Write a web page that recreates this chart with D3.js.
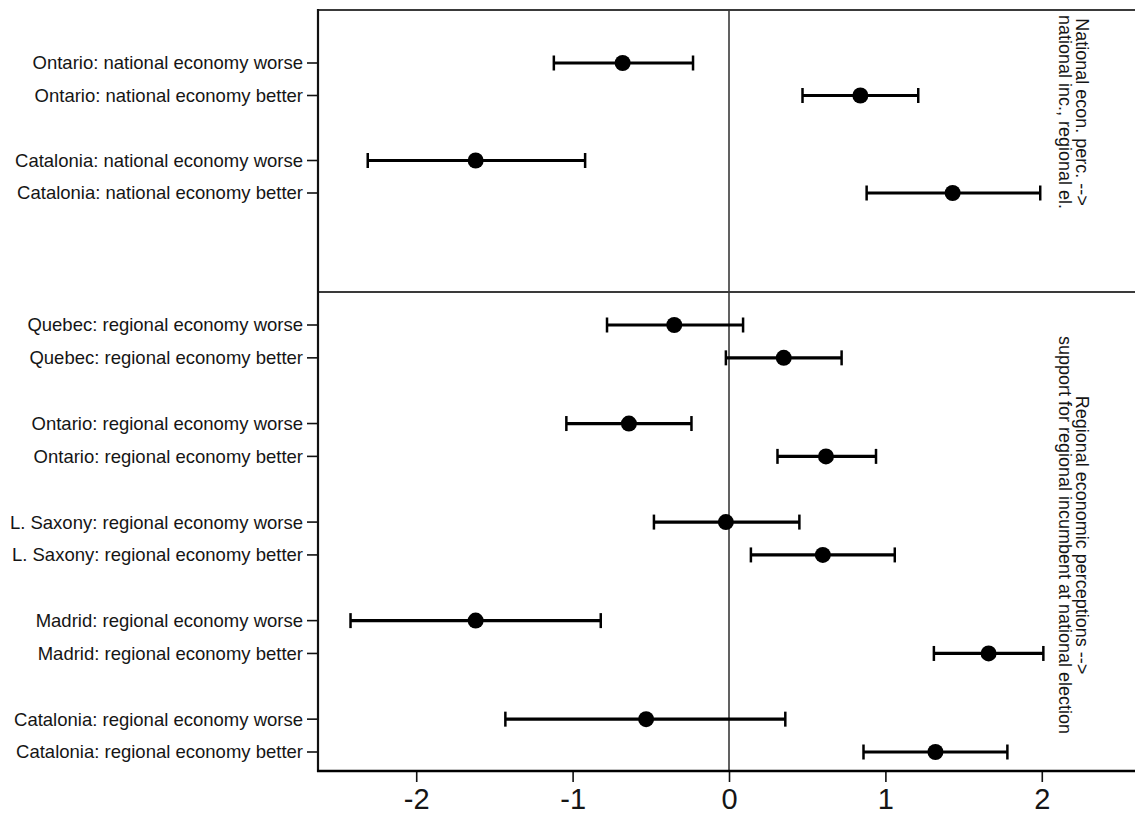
<!DOCTYPE html>
<html>
<head>
<meta charset="utf-8">
<script src="https://cdn.jsdelivr.net/npm/d3@7/dist/d3.min.js"></script>
<style>
  html, body { margin: 0; padding: 0; background: #fff; }
  svg { display: block; font-family: Arial, "Liberation Sans", Helvetica, sans-serif; }
</style>
</head>
<body>
<svg id="chart" width="1135" height="818"></svg>
<script>
// Coefficient estimates with 95% confidence intervals, grouped in two panels
const labels = [
  "Ontario: national economy worse",
  "Ontario: national economy better",
  "Catalonia: national economy worse",
  "Catalonia: national economy better",
  "Quebec: regional economy worse",
  "Quebec: regional economy better",
  "Ontario: regional economy worse",
  "Ontario: regional economy better",
  "L. Saxony: regional economy worse",
  "L. Saxony: regional economy better",
  "Madrid: regional economy worse",
  "Madrid: regional economy better",
  "Catalonia: regional economy worse",
  "Catalonia: regional economy better"
];
const panel    = [0, 0, 0, 0, 1, 1, 1, 1, 1, 1, 1, 1, 1, 1];
const slot     = [0, 1, 3, 4, 0, 1, 3, 4, 6, 7, 9, 10, 12, 13];
const estimate = [-0.68, 0.84, -1.62, 1.43, -0.35, 0.35, -0.64, 0.62, -0.02, 0.60, -1.62, 1.66, -0.53, 1.32];
const lower    = [-1.12, 0.47, -2.31, 0.88, -0.78, -0.02, -1.04, 0.31, -0.48, 0.14, -2.42, 1.31, -1.43, 0.86];
const upper    = [-0.23, 1.21, -0.92, 1.99, 0.09, 0.72, -0.24, 0.94, 0.45, 1.06, -0.82, 2.01, 0.36, 1.78];
const xTicks   = [-2, -1, 0, 1, 2];
const panelTitles = [
  ["National econ. perc. -->", "national inc., regional el."],
  ["Regional economic perceptions -->", "support for regional incumbent at national election"]
];

const svg = d3.select("#chart");
const left = 318, right = 1140, plotBottom = 771;
const ink = "#151515", frame = "#3a3a3a";

const x = d3.scaleLinear().domain([-2.628, 2.596]).range([left, 1135]);

// Each panel maps row slots to vertical pixels
const panels = [
  { top: 10,  bottom: 292, y: d3.scaleLinear().domain([0, 4]).range([63, 193]),  titleY: 112 },
  { top: 292, bottom: plotBottom, y: d3.scaleLinear().domain([0, 13]).range([325, 752]), titleY: 535 }
];

const rows = labels.map((label, i) => ({
  label, est: estimate[i], lo: lower[i], hi: upper[i], p: panel[i],
  yPos: panels[panel[i]].y(slot[i])
}));

// Panel frames
panels.forEach((pn, k) => {
  svg.append("line")
    .attr("x1", left).attr("x2", right)
    .attr("y1", pn.top).attr("y2", pn.top)
    .attr("stroke", frame).attr("stroke-width", 2.2);
  // reference line at zero
  svg.append("line")
    .attr("x1", x(0)).attr("x2", x(0))
    .attr("y1", pn.top).attr("y2", pn.bottom)
    .attr("stroke", frame).attr("stroke-width", 1.6);
  // rotated panel title on the right
  const t = svg.append("text")
    .attr("transform", `translate(1076,${pn.titleY}) rotate(90)`)
    .attr("text-anchor", "middle")
    .attr("font-size", 18)
    .attr("fill", ink);
  t.append("tspan").attr("x", 0).attr("y", 0).text(panelTitles[k][0]);
  t.append("tspan").attr("x", 0).attr("y", 17).text(panelTitles[k][1]);
});

// Left axis line
svg.append("line")
  .attr("x1", left).attr("x2", left)
  .attr("y1", 9).attr("y2", plotBottom + 1)
  .attr("stroke", "#111").attr("stroke-width", 2.2);

// Row ticks and labels
const rowG = svg.append("g");
rowG.selectAll("line.tick").data(rows).join("line")
  .attr("class", "tick")
  .attr("x1", left - 11).attr("x2", left)
  .attr("y1", d => d.yPos).attr("y2", d => d.yPos)
  .attr("stroke", "#111").attr("stroke-width", 1.6);
rowG.selectAll("text").data(rows).join("text")
  .attr("x", left - 15)
  .attr("y", d => d.yPos)
  .attr("dy", "0.35em")
  .attr("text-anchor", "end")
  .attr("font-size", 18.5)
  .attr("fill", ink)
  .text(d => d.label);

// Confidence intervals
const ci = svg.append("g").attr("stroke", "#000").attr("stroke-width", 3.2);
ci.selectAll("line.bar").data(rows).join("line")
  .attr("class", "bar")
  .attr("x1", d => x(d.lo)).attr("x2", d => x(d.hi))
  .attr("y1", d => d.yPos).attr("y2", d => d.yPos);
ci.selectAll("line.capL").data(rows).join("line")
  .attr("class", "capL")
  .attr("x1", d => x(d.lo)).attr("x2", d => x(d.lo))
  .attr("y1", d => d.yPos - 7.5).attr("y2", d => d.yPos + 7.5)
  .attr("stroke-width", 2.5);
ci.selectAll("line.capR").data(rows).join("line")
  .attr("class", "capR")
  .attr("x1", d => x(d.hi)).attr("x2", d => x(d.hi))
  .attr("y1", d => d.yPos - 7.5).attr("y2", d => d.yPos + 7.5)
  .attr("stroke-width", 2.5);

// Point estimates
svg.append("g").selectAll("circle").data(rows).join("circle")
  .attr("cx", d => x(d.est))
  .attr("cy", d => d.yPos)
  .attr("r", 8)
  .attr("fill", "#000");

// Bottom axis
const xAxis = d3.axisBottom(x)
  .tickValues(xTicks)
  .tickSize(11)
  .tickPadding(6)
  .tickFormat(d => String(d));
const gx = svg.append("g")
  .attr("transform", `translate(0,${plotBottom})`)
  .call(xAxis);
gx.select(".domain").remove();
gx.append("line")
  .attr("x1", left - 1).attr("x2", right)
  .attr("y1", 0).attr("y2", 0)
  .attr("stroke", "#000").attr("stroke-width", 2.6);
gx.selectAll(".tick line").attr("stroke", "#111").attr("stroke-width", 1.6);
gx.selectAll(".tick text")
  .attr("font-size", 29)
  .attr("font-family", "Arial, 'Liberation Sans', sans-serif")
  .attr("fill", ink);
</script>
</body>
</html>
